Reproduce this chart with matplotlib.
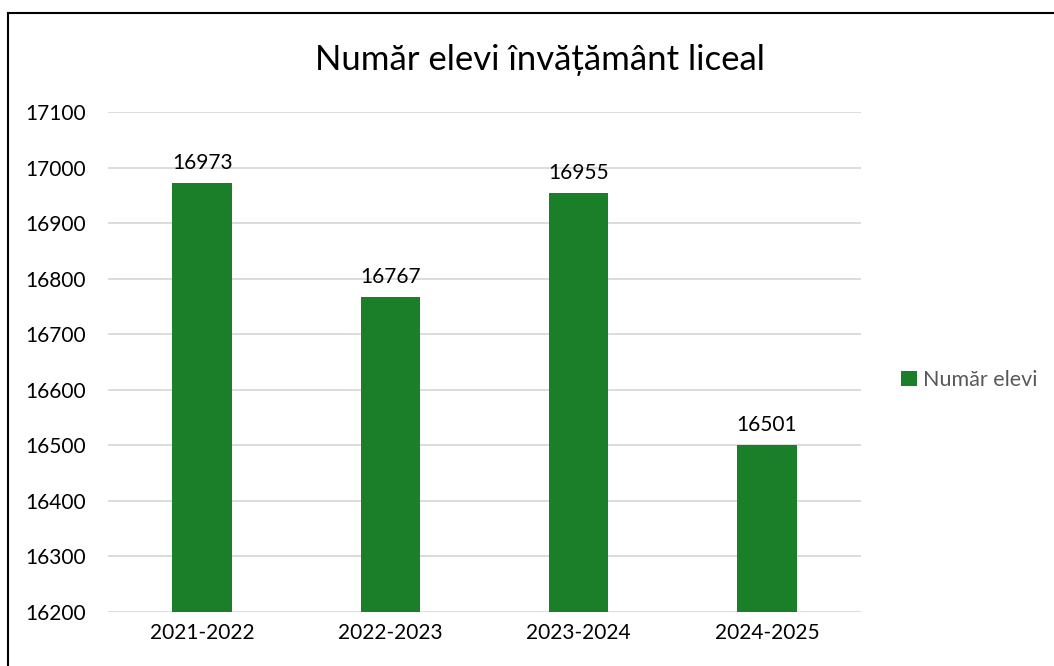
import matplotlib.pyplot as plt
from matplotlib.lines import Line2D

plt.rcParams['font.family'] = ['Lato', 'DejaVu Sans']

# data
years = ['2021-2022', '2022-2023', '2023-2024', '2024-2025']
elevi = [16973, 16767, 16955, 16501]

green = '#1b7f2a'

fig = plt.figure(figsize=(10.54, 6.66), dpi=100)
ax = fig.add_axes([108 / 1054, 54 / 666, 753 / 1054, 500 / 666])

bars = ax.bar(range(len(years)), elevi, width=0.315, color=green, label='Număr elevi', zorder=3)
for i, v in enumerate(elevi):
    ax.annotate(str(v), (i, v), xytext=(0, 7), textcoords='offset points',
                ha='center', va='bottom', fontsize=15, color='#000000')

ax.set_xlim(-0.5, len(years) - 0.5)
ax.set_ylim(16200, 17100)
ax.set_yticks(range(16200, 17101, 100))
ax.set_xticks(range(len(years)))
ax.set_xticklabels(years)
ax.tick_params(axis='both', length=0, labelsize=15, colors='#000000')
ax.tick_params(axis='y', pad=16)
ax.tick_params(axis='x', pad=8)
ax.grid(axis='y', color='#d9d9d9', linewidth=1.3, zorder=0)
for s in ax.spines.values():
    s.set_visible(False)

fig.text(540 / 1054, 1 - 60 / 666, 'Număr elevi învățământ liceal', ha='center', va='center', fontsize=25)

leg = fig.legend(handles=[bars], labels=['Număr elevi'], loc='center left',
                 bbox_to_anchor=(895 / 1054, 1 - 380 / 666), frameon=False,
                 fontsize=15.5, handlelength=0.7, handleheight=0.7, handletextpad=0.3,
                 borderaxespad=0, borderpad=0.3)
for t in leg.get_texts():
    t.set_color('#595959')

# chart border (top and left edges visible)
fig.add_artist(Line2D([8 / 1054, 1], [1 - 13 / 666, 1 - 13 / 666], color='black', linewidth=1.5))
fig.add_artist(Line2D([8 / 1054, 8 / 1054], [0, 1 - 13 / 666], color='black', linewidth=1.5))

fig.savefig('out.png', dpi=100)
